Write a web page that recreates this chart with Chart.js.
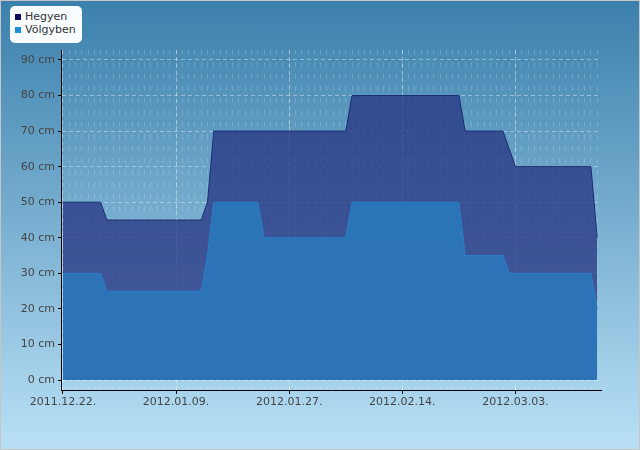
<!DOCTYPE html>
<html>
<head>
<meta charset="utf-8">
<script src="https://cdn.jsdelivr.net/npm/chart.js@4/dist/chart.umd.min.js"></script>
<style>
  body { margin: 0; }
  #wrap {
    position: relative; width: 640px; height: 450px; box-sizing: border-box;
    border: 1px solid #c6c6c6;
    background: linear-gradient(#3b80ac, #b9e0f6);
  }
  #chart { display: block; }
  #legend {
    position: absolute; left: 9px; top: 5px; width: 72px; height: 37px;
    background: #f8fcff; border-radius: 5px;
    font: 11px "DejaVu Sans", sans-serif; color: #333;
  }
  #legend div { position: absolute; left: 5px; white-space: nowrap; line-height: 13px; }
  #legend span { display: inline-block; width: 6px; height: 6px; margin-right: 4px; vertical-align: 0px; }
</style>
</head>
<body>
<div id="wrap">
  <canvas id="chart" width="638" height="448"></canvas>
  <div id="legend"></div>
</div>
<script>
// breakpoints (date, cm)
var startDate = '2011-12-22';
var hegyenDates = ['2011-12-22', '2011-12-28', '2011-12-29', '2012-01-13', '2012-01-14', '2012-01-15',
  '2012-02-05', '2012-02-06', '2012-02-23', '2012-02-24', '2012-03-01', '2012-03-03', '2012-03-15', '2012-03-16'];
var hegyenValues = [50, 50, 45, 45, 50, 70, 70, 80, 80, 70, 70, 60, 60, 40];
var volgybenDates = ['2011-12-22', '2011-12-28', '2011-12-29', '2012-01-13', '2012-01-14', '2012-01-15',
  '2012-01-22', '2012-01-23', '2012-02-05', '2012-02-06', '2012-02-23', '2012-02-24', '2012-03-01',
  '2012-03-02', '2012-03-15', '2012-03-16'];
var volgybenValues = [30, 30, 25, 25, 35, 50, 50, 40, 40, 50, 50, 35, 35, 30, 30, 20];
var xTickDates = ['2011-12-22', '2012-01-09', '2012-01-27', '2012-02-14', '2012-03-03'];
var yTickValues = [0, 10, 20, 30, 40, 50, 60, 70, 80, 90];

var dayMs = 86400000;
function dayOf(s) {
  return Math.round((Date.parse(s) - Date.parse(startDate)) / dayMs);
}
function labelOf(day) {
  var d = new Date(Date.parse(startDate) + day * dayMs);
  var mm = ('0' + (d.getUTCMonth() + 1)).slice(-2);
  var dd = ('0' + d.getUTCDate()).slice(-2);
  return d.getUTCFullYear() + '.' + mm + '.' + dd + '.';
}
function points(dates, values) {
  return dates.map(function(s, i) { return { x: dayOf(s), y: values[i] }; });
}

var lastDay = dayOf(hegyenDates[hegyenDates.length - 1]);
var minorDays = [];
for (var i = 0; i <= lastDay; i++) minorDays.push(i);

var datasets = [{
  label: 'Hegyen',
  data: points(hegyenDates, hegyenValues),
  borderColor: '#1c2c72',
  backgroundColor: 'rgba(38, 52, 130, 0.76)',
  swatch: '#0c0c5c',
  fill: 'origin',
  order: 2
}, {
  label: 'Völgyben',
  data: points(volgybenDates, volgybenValues),
  borderColor: '#2b7fc6',
  backgroundColor: 'rgba(42, 118, 184, 0.92)',
  swatch: '#1a8fe0',
  fill: 'origin',
  order: 1
}];

new Chart(document.getElementById('chart'), {
  type: 'line',
  data: { datasets: datasets },
  options: {
    responsive: false,
    animation: false,
    devicePixelRatio: 1,
    layout: { padding: { top: 49, right: 38, left: 0, bottom: 0 } },
    elements: {
      point: { radius: 0 },
      line: { borderWidth: 1, tension: 0 }
    },
    plugins: { legend: { display: false }, tooltip: { enabled: false } },
    scales: {
      x: {
        type: 'linear',
        position: 'bottom',
        min: -0.3,
        max: lastDay + 0.6,
        afterBuildTicks: function(scale) {
          scale.ticks = xTickDates.map(function(s) { return { value: dayOf(s) }; });
        },
        afterFit: function(scale) { scale.height = 59; },
        ticks: {
          color: '#444',
          font: { family: 'DejaVu Sans', size: 11 },
          padding: 2,
          maxRotation: 0,
          callback: function(v) { return labelOf(v); }
        },
        grid: { color: 'rgba(255, 255, 255, 0.4)', tickColor: '#000', tickLength: 4 },
        border: { color: '#000', dash: [4, 3] }
      },
      xMinor: {
        type: 'linear',
        position: 'bottom',
        min: -0.3,
        max: lastDay + 0.6,
        afterBuildTicks: function(scale) {
          scale.ticks = minorDays.map(function(d) { return { value: d }; });
        },
        afterFit: function(scale) { scale.height = 0; },
        ticks: { display: false },
        grid: { color: 'rgba(255, 255, 255, 0.18)', drawTicks: false },
        border: { display: false, dash: [5, 7] }
      },
      y: {
        min: -2.8,
        max: 92.8,
        afterBuildTicks: function(scale) {
          scale.ticks = yTickValues.map(function(v) { return { value: v }; });
        },
        afterFit: function(scale) { scale.width = 60; },
        ticks: {
          color: '#444',
          font: { family: 'DejaVu Sans', size: 11 },
          padding: 3,
          callback: function(v) { return v + ' cm'; }
        },
        grid: { color: 'rgba(255, 255, 255, 0.4)', tickColor: '#000', tickLength: 3 },
        border: { color: '#000', dash: [4, 3] }
      }
    }
  }
});

var legend = document.getElementById('legend');
datasets.forEach(function(ds, i) {
  var row = document.createElement('div');
  row.style.top = (4 + i * 13) + 'px';
  row.innerHTML = '<span style="background:' + ds.swatch + '"></span>' + ds.label;
  legend.appendChild(row);
});
</script>
</body>
</html>
